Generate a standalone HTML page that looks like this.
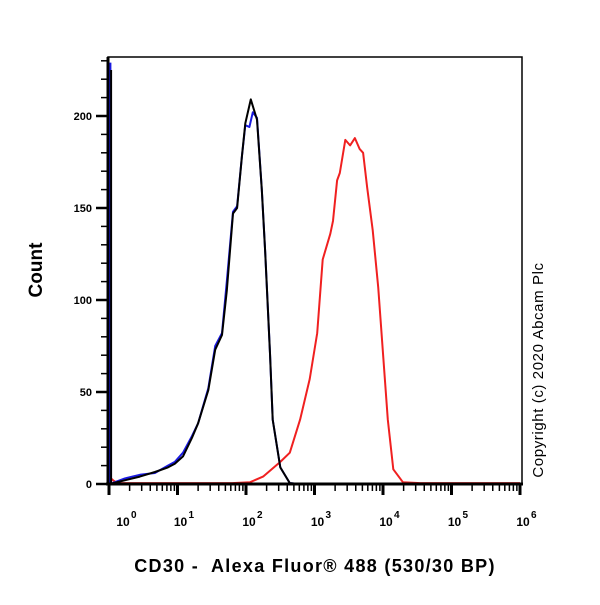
<!DOCTYPE html>
<html><head><meta charset="utf-8"><style>
body{margin:0;background:#fff;}
svg text{font-family:"Liberation Sans",sans-serif;}
</style></head><body>
<svg width="600" height="600" viewBox="0 0 600 600">
<g id="plot"></g>
<text x="42" y="270" font-size="19" font-weight="bold" text-anchor="middle" transform="rotate(-90 42 270)">Count</text>
<text x="315" y="572" font-size="18" font-weight="bold" text-anchor="middle" letter-spacing="1.3" xml:space="preserve">CD30 -  Alexa Fluor® 488 (530/30 BP)</text>
<text x="543" y="370" font-size="15" text-anchor="middle" letter-spacing="0.6" transform="rotate(-90 543 370)">Copyright (c) 2020 Abcam Plc</text>
</svg>
<script>
const blackLog=[0.03,0.03,0.06,0.23,0.45,0.67,0.86,0.96,1.08,1.21,1.30,1.45,1.55,1.65,1.72,1.81,1.87,1.94,1.99,2.07,2.16,2.23,2.28,2.35,2.39,2.50,2.64,2.79,6.0];
const blackVal=[225,0,0.5,2,4,6.5,9,11,15,25,33,51,73,81,105,147,150,178,196,209,198,160,126,71,35,9,0.5,0,0];
const blueLog=[0.02,0.02,0.05,0.23,0.45,0.67,0.86,0.96,1.08,1.21,1.30,1.45,1.55,1.65,1.72,1.81,1.87,1.94,1.99,2.05,2.10,2.16,2.23,2.28,2.35,2.39,2.50,2.64,2.79,6.0];
const blueVal=[229,0,0.5,3,5,6,10,12,17,26,33,52,75,82,110,148,151,178,195,194,202,199,160,126,71,35,9,0.5,0,0];
const redLog=[0.03,0.06,0.12,1.80,2.06,2.25,2.50,2.64,2.79,2.93,3.04,3.12,3.23,3.27,3.33,3.37,3.45,3.52,3.59,3.66,3.71,3.77,3.85,3.93,4.00,4.07,4.15,4.29,4.54,6.0];
const redVal=[3,2,0.5,0.5,1,4,12,17,35,57,82,122,136,143,165,169,187,184,188,182,180,161,138,107,71,35,8,1,0.5,0.5];
const yTicks=[0,50,100,150,200];
const xDecades=[0,1,2,3,4,5,6];
const X0=109,DEC=68.5,Y0=484,YS=1.84;
const L=108,R=522,T=57;
const xs=v=>X0+DEC*v, ys=v=>Y0-YS*v;
const NS='http://www.w3.org/2000/svg';
const g=document.getElementById('plot');
function mk(t,a){const e=document.createElementNS(NS,t);for(const k in a)e.setAttribute(k,a[k]);g.appendChild(e);return e;}
let fr=mk('rect',{x:L,y:T,width:R-L,height:Y0-T,fill:'none',stroke:'#000','stroke-width':1.5});


let ya=mk('line',{x1:L,y1:T,x2:L,y2:Y0+1,stroke:'#000','stroke-width':3});


function line(lx,vy,color,name){
  const d=lx.map((v,i)=>(i?'L':'M')+xs(v).toFixed(1)+','+ys(vy[i]).toFixed(1)).join('');
  const p=mk('path',{d:d,fill:'none',stroke:color,'stroke-width':2,'stroke-linejoin':'round'});
  
  
}
line(redLog,redVal,'#f02020','series-red');
line(blueLog,blueVal,'#1a1ae0','series-blue');
line(blackLog,blackVal,'#000','series-black');
let xa=mk('line',{x1:L-2,y1:Y0,x2:R+1,y2:Y0,stroke:'#000','stroke-width':3});


for(let v=0;v<=230;v+=10){
  const maj=v%50===0;
  mk('line',{x1:maj?96:101,y1:ys(v),x2:L,y2:ys(v),stroke:'#000','stroke-width':maj?2.5:1.5});
}
yTicks.forEach(v=>{
  const t=mk('text',{x:92,y:ys(v)+4,'font-size':11,'font-weight':'bold','text-anchor':'end'});
  t.textContent=v;
  
  
});
xDecades.forEach((d,i)=>{
  mk('line',{x1:xs(d),y1:Y0,x2:xs(d),y2:Y0+11,stroke:'#000','stroke-width':3});
  if(i<xDecades.length-1){for(let m=2;m<10;m++){const x=xs(d+Math.log10(m));mk('line',{x1:x,y1:Y0,x2:x,y2:Y0+7,stroke:'#000','stroke-width':1.5});}}
  const lx=i===0?xs(d)+14:xs(d)+3;
  const t=mk('text',{x:lx,y:Y0+42,'font-size':12,'font-weight':'bold','text-anchor':'middle'});
  t.textContent='10';
  
  
  const s=mk('text',{x:lx+8,y:Y0+34,'font-size':10,'font-weight':'bold'});
  s.textContent=d;
  
  
});
</script>
</body></html>
